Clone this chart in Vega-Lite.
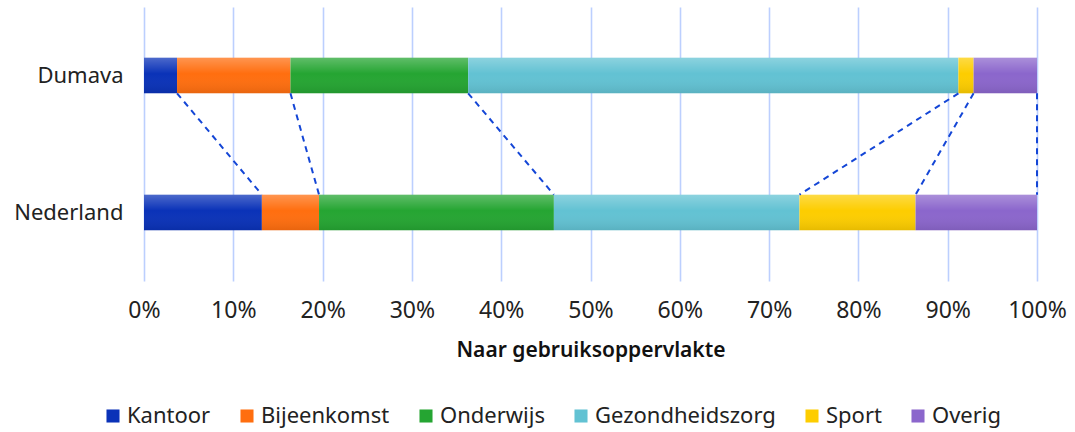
{
  "$schema": "https://vega.github.io/schema/vega-lite/v6.json",
  "width": 893,
  "height": 274,
  "autosize": {"type": "none"},
  "padding": {"left": 144, "top": 7, "right": 38, "bottom": 151},
  "config": {"font": "Noto Sans", "view": {"stroke": null}},
  "data": {
    "values": [
      {"land": "Dumava", "cat": "Kantoor", "orde": 1, "share": 0.037},
      {"land": "Dumava", "cat": "Bijeenkomst", "orde": 2, "share": 0.127},
      {"land": "Dumava", "cat": "Onderwijs", "orde": 3, "share": 0.199},
      {"land": "Dumava", "cat": "Gezondheidszorg", "orde": 4, "share": 0.549},
      {"land": "Dumava", "cat": "Sport", "orde": 5, "share": 0.017},
      {"land": "Dumava", "cat": "Overig", "orde": 6, "share": 0.071},
      {"land": "Nederland", "cat": "Kantoor", "orde": 1, "share": 0.132},
      {"land": "Nederland", "cat": "Bijeenkomst", "orde": 2, "share": 0.064},
      {"land": "Nederland", "cat": "Onderwijs", "orde": 3, "share": 0.263},
      {"land": "Nederland", "cat": "Gezondheidszorg", "orde": 4, "share": 0.275},
      {"land": "Nederland", "cat": "Sport", "orde": 5, "share": 0.130},
      {"land": "Nederland", "cat": "Overig", "orde": 6, "share": 0.136}
    ]
  },
  "layer": [
    {
      "mark": {"type": "bar", "strokeWidth": 0},
      "encoding": {
        "y": {
          "field": "land", "type": "nominal", "sort": ["Dumava", "Nederland"],
          "scale": {"paddingInner": 0.74, "paddingOuter": 0.37},
          "axis": {"title": null, "domain": false, "ticks": false, "labelFontSize": 22, "labelColor": "#222222", "labelPadding": 21}
        },
        "x": {
          "field": "share", "type": "quantitative", "stack": "zero",
          "scale": {"domain": [0, 1], "nice": false},
          "title": "Naar gebruiksoppervlakte",
          "axis": {
            "values": [0, 0.1, 0.2, 0.3, 0.4, 0.5, 0.6, 0.7, 0.8, 0.9, 1],
            "format": ".0%", "domain": false, "ticks": false,
            "grid": true, "gridColor": "#BCCFFE", "gridWidth": 1.6,
            "labelFlush": false, "labelOverlap": false,
            "labelFontSize": 23, "labelColor": "#222222", "labelPadding": 18,
            "titleFontSize": 21, "titleFontWeight": 600, "titleColor": "#111111", "titlePadding": 17
          }
        },
        "color": {
          "field": "cat", "type": "nominal",
          "scale": {
            "domain": ["Kantoor", "Bijeenkomst", "Onderwijs", "Gezondheidszorg", "Sport", "Overig"],
            "range": ["#0A32B8", "#FF6E0F", "#25A532", "#62C2D3", "#FDCD00", "#8B66CC"]
          },
          "legend": {
            "title": null, "orient": "none", "direction": "horizontal",
            "legendX": -42, "legendY": 398,
            "symbolType": "square", "symbolSize": 170, "symbolStrokeWidth": 0,
            "labelFontSize": 22, "labelColor": "#222222", "labelOffset": 3, "labelLimit": 400,
            "columnPadding": 25
          }
        },
        "order": {"field": "orde", "type": "quantitative"}
      }
    },
    {
      "mark": {
        "type": "bar", "strokeWidth": 0,
        "fill": {
          "gradient": "linear", "x1": 0, "y1": 0, "x2": 0, "y2": 1,
          "stops": [
            {"offset": 0, "color": "rgba(255,255,255,0.27)"},
            {"offset": 0.45, "color": "rgba(255,255,255,0)"},
            {"offset": 1, "color": "rgba(0,0,0,0.09)"}
          ]
        }
      },
      "encoding": {
        "y": {"field": "land", "type": "nominal", "sort": ["Dumava", "Nederland"]},
        "x": {"aggregate": "sum", "field": "share", "type": "quantitative", "title": "Naar gebruiksoppervlakte"}
      }
    },
    {
      "transform": [
        {"window": [{"op": "sum", "field": "share", "as": "cum"}], "groupby": ["land"], "sort": [{"field": "orde"}], "frame": [null, 0]},
        {"pivot": "land", "value": "cum", "groupby": ["cat"]}
      ],
      "mark": {"type": "rule", "strokeDash": [6, 5], "color": "#1446D6", "strokeWidth": 2},
      "encoding": {
        "x": {"field": "Dumava", "type": "quantitative", "title": "Naar gebruiksoppervlakte"},
        "x2": {"field": "Nederland"},
        "y": {"datum": "Dumava", "type": "nominal", "bandPosition": 1},
        "y2": {"datum": "Nederland", "bandPosition": 0}
      }
    }
  ]
}
